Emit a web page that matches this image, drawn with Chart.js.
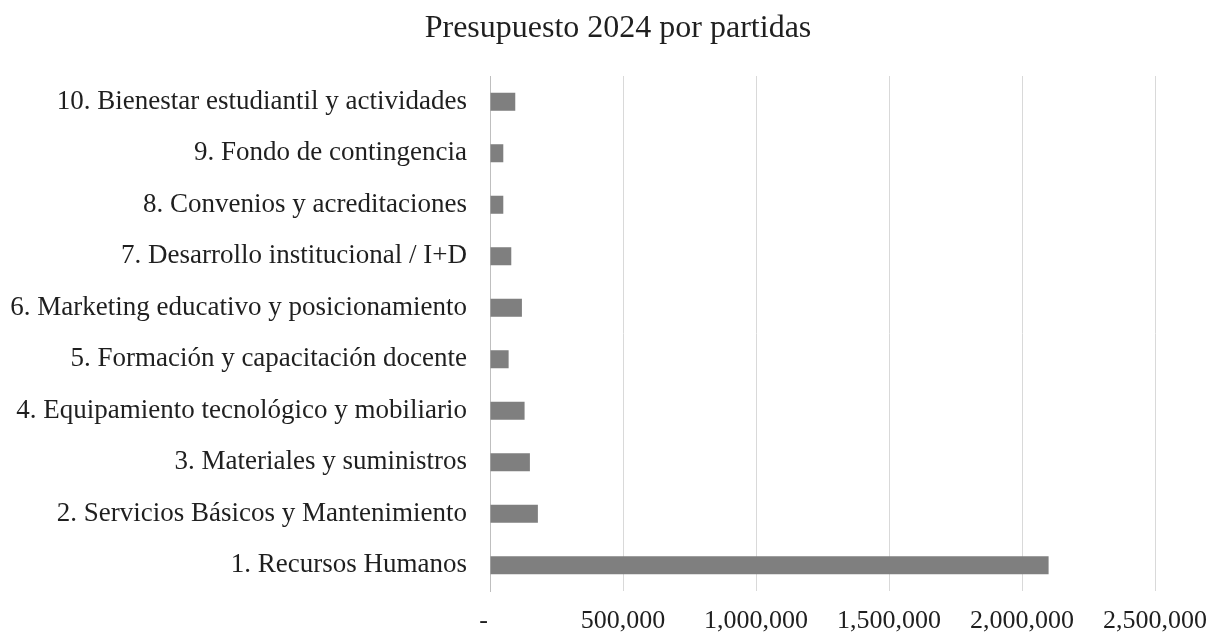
<!DOCTYPE html>
<html>
<head>
<meta charset="utf-8">
<script src="https://cdn.jsdelivr.net/npm/chart.js@4"></script>
<style>
  html, body { margin: 0; padding: 0; background: #fff; }
  #wrap { width: 1216px; height: 635px; }
</style>
</head>
<body>
<div id="wrap"><canvas id="chart"></canvas></div>
<script>
// datos (orden 1 -> 10, de abajo hacia arriba)
const chartTitle = 'Presupuesto 2024 por partidas';
const partidas = [
  '1. Recursos Humanos',
  '2. Servicios Básicos y Mantenimiento',
  '3. Materiales y suministros',
  '4. Equipamiento tecnológico y mobiliario',
  '5. Formación y capacitación docente',
  '6. Marketing educativo y posicionamiento',
  '7. Desarrollo institucional / I+D',
  '8. Convenios y acreditaciones',
  '9. Fondo de contingencia',
  '10. Bienestar estudiantil y actividades'
];
const montos = [2100000, 180000, 150000, 130000, 70000, 120000, 80000, 50000, 50000, 95000];
const xTicks = [0, 500000, 1000000, 1500000, 2000000, 2500000];

const serif = '"Liberation Serif", "Times New Roman", serif';

// título centrado arriba, dibujado a mano
const titlePlugin = {
  id: 'titleText',
  afterDraw(chart) {
    const ctx = chart.ctx;
    ctx.save();
    ctx.font = '32px ' + serif;
    ctx.fillStyle = '#1f1f1f';
    ctx.textAlign = 'center';
    ctx.textBaseline = 'alphabetic';
    ctx.fillText(chartTitle, 618, 37);
    ctx.restore();
  }
};

new Chart(document.getElementById('chart'), {
  type: 'bar',
  data: {
    labels: partidas,
    datasets: [{
      data: montos,
      backgroundColor: '#7f7f7f',
      barPercentage: 0.35,
      categoryPercentage: 1
    }]
  },
  options: {
    indexAxis: 'y',
    responsive: true,
    maintainAspectRatio: false,
    animation: false,
    layout: { padding: { top: 76, right: 61, left: 0, bottom: 0 } },
    plugins: {
      legend: { display: false },
      tooltip: { enabled: false }
    },
    scales: {
      x: {
        min: 0,
        max: 2500000,
        afterBuildTicks: (scale) => { scale.ticks = xTicks.map(v => ({ value: v })); },
        afterFit: (scale) => {
          scale.height = 44;
          // la última etiqueta cabe en el padding, no encoger el área
          scale.paddingLeft = 0;
          scale.paddingRight = 0;
        },
        grid: { color: '#d9d9d9', drawTicks: false },
        border: { display: false },
        ticks: {
          padding: 15,
          color: '#1f1f1f',
          font: { family: serif, size: 26 },
          // formato contable: el cero sale como guion
          callback: (v) => v === 0 ? '-  ' : Number(v).toLocaleString('en-US')
        }
      },
      y: {
        reverse: true,
        afterFit: (scale) => { scale.width = 490; },
        grid: { display: false, drawTicks: false },
        border: { display: true, color: '#bfbfbf', width: 1 },
        ticks: {
          padding: 23,
          color: '#1f1f1f',
          font: { family: serif, size: 27 }
        }
      }
    }
  },
  plugins: [titlePlugin]
});
</script>
</body>
</html>
